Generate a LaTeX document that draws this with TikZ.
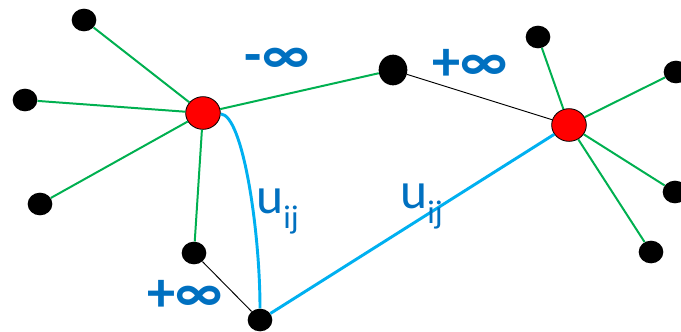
\documentclass[tikz,border=0pt]{standalone}
\usepackage{fontspec}
\setmainfont{Carlito}
\usepackage{tikz}
\usetikzlibrary{shapes.geometric}
\usepackage{xcolor}
\definecolor{cutblue}{HTML}{00B0F0}
\definecolor{txtblue}{HTML}{0070C0}
\definecolor{arcgreen}{HTML}{00B050}

\begin{document}
\begin{tikzpicture}[x=0.03cm, y=-0.03cm,
    dot/.style={ellipse, fill=black, inner sep=0, minimum width=0.74cm, minimum height=0.68cm},
    hub/.style={ellipse, fill=red, draw=black, line width=0.7pt, inner sep=0,
              minimum width=1.04cm, minimum height=0.98cm},
    arc/.style={arcgreen, line width=1.7pt},
    thin arc/.style={black, line width=0.8pt},
    cut/.style={cutblue, line width=2.5pt},
    lab/.style={txtblue, inner sep=0, font=\fontsize{48}{52}\selectfont\bfseries},
    ulab/.style={txtblue, inner sep=0, anchor=base west, font=\fontsize{44}{48}\selectfont}]
  \useasboundingbox (0,0) rectangle (681,331);
  % the two red hubs
  \node[hub] (ni) at (203,113) {};
  \node[hub] (nj) at (569,125) {};
  % black nodes
  \node[dot] (a1) at (84,20) {};
  \node[dot] (a2) at (25,100) {};
  \node[dot] (a3) at (40,204) {};
  \node[dot] (a4) at (194,253) {};
  \node[dot] (k) at (260,320) {};
  \node[dot, minimum width=0.86cm, minimum height=0.92cm] (m) at (393,70) {};
  \node[dot] (b1) at (538,37) {};
  \node[dot] (b2) at (676,72) {};
  \node[dot] (b3) at (675,192) {};
  \node[dot] (b4) at (651,252) {};
  % edges
  \foreach \n in {a1,a2,a3,a4,m} \draw[arc] (ni) -- (\n);
  \foreach \n in {b1,b2,b3,b4} \draw[arc] (nj) -- (\n);
  \draw[thin arc] (m) -- (nj);
  \draw[thin arc] (a4) -- (k);
  \draw[cut] (ni) .. controls (243,115) and (260,231) .. (k);
  \draw[cut] (k) -- (nj);
  % labels
  \node[lab] (l1) at (277,61) {-∞};
  \node[lab] (l2) at (470,65) {+∞};
  \node[lab] (l3) at (185,296) {+∞};
  \node[ulab] (u1) at (256,213) {u\raisebox{-0.3em}{\fontsize{28}{30}\selectfont ij}};
  \node[ulab] (u2) at (400,208) {u\raisebox{-0.3em}{\fontsize{28}{30}\selectfont ij}};
\end{tikzpicture}
\end{document}
